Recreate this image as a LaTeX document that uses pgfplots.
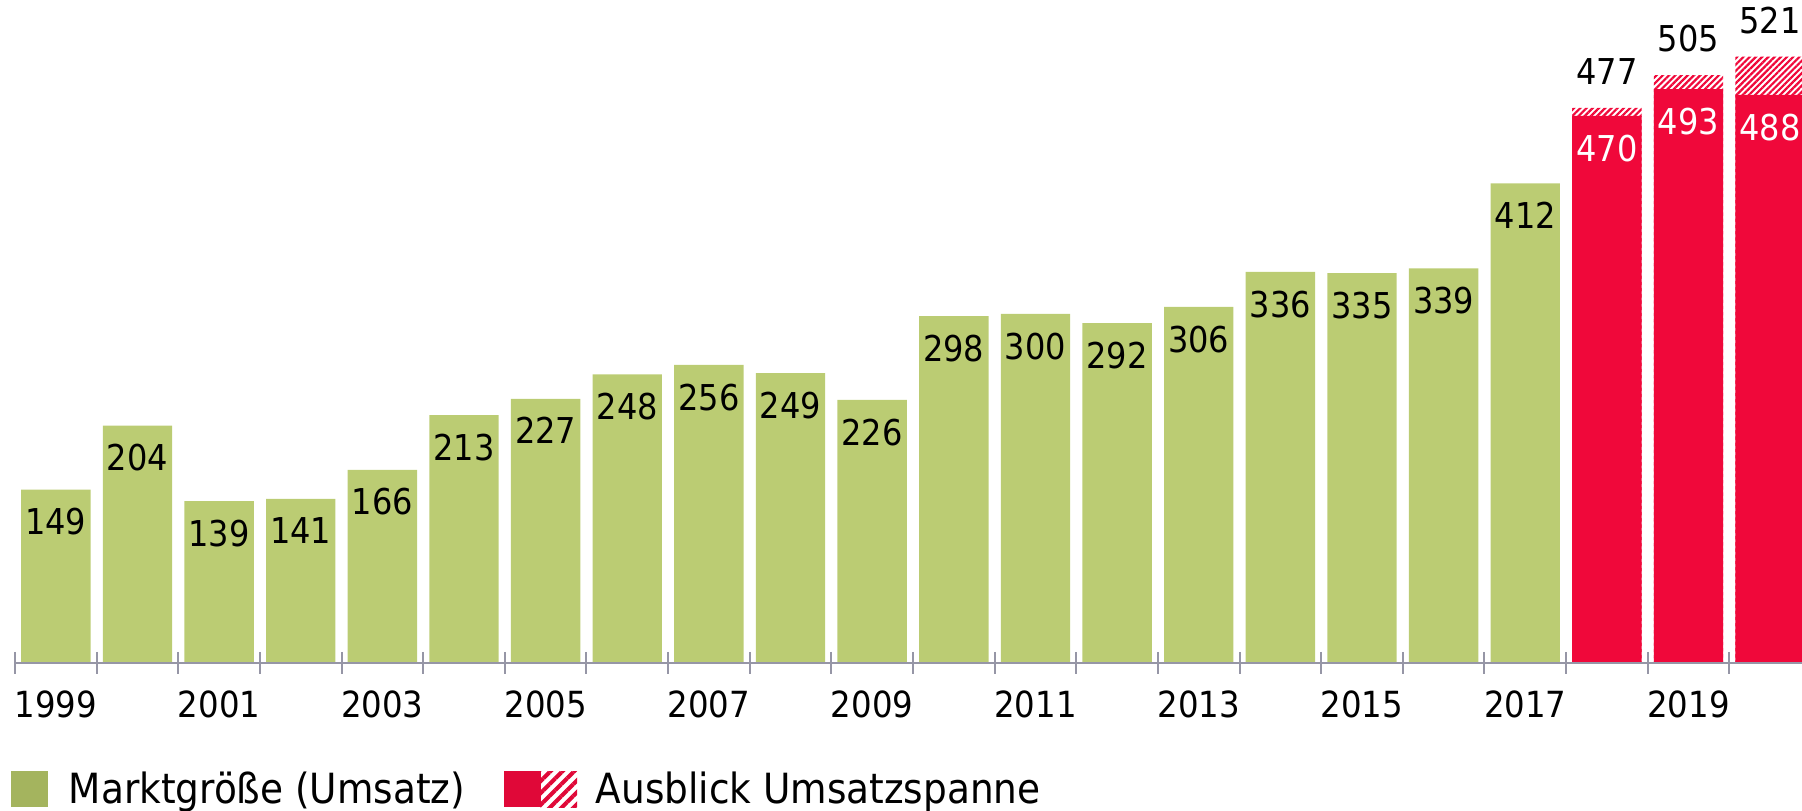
\documentclass[border=0pt]{standalone}
\usepackage{fontspec}
\setmainfont{DejaVu Sans Condensed}
\usepackage{pgfplots}
\pgfplotsset{compat=1.18}
\usetikzlibrary{patterns.meta}

\definecolor{barG}{RGB}{187,204,115}
\definecolor{legG}{RGB}{164,180,94}
\definecolor{barR}{RGB}{240,8,58}
\definecolor{legR}{RGB}{224,8,56}
\definecolor{axG}{RGB}{150,150,166}

% Marktgroesse 1999-2017
\pgfplotstableread{
x y
0 149
1 204
2 139
3 141
4 166
5 213
6 227
7 248
8 256
9 249
10 226
11 298
12 300
13 292
14 306
15 336
16 335
17 339
18 412
}\markt
% Ausblick: untere / obere Grenze
\pgfplotstableread{
x lo hi
19 470 477
20 493 505
21 488 521
}\ausblick

\begin{document}
\begin{tikzpicture}
\begin{axis}[
  scale only axis, width=446.75pt, height=165.75pt,
  xmin=-0.5, xmax=21.39, ymin=0, ymax=569.6,
  axis x line*=bottom, axis y line=none,
  x axis line style={-, draw=axG, line width=0.5pt},
  ytick=\empty,
  xtick pos=bottom,
  xtick={0,2,...,20},
  xticklabels={1999,2001,2003,2005,2007,2009,2011,2013,2015,2017,2019},
  major tick length=0pt,
  xticklabel style={font=\fontsize{9}{10}\selectfont, anchor=north, inner sep=0pt, yshift=-6.75pt},
  /pgf/number format/assume math mode=true,
  bar width=0.85,
  axis on top,
  nodes near coords style={font=\fontsize{8.9}{10}\selectfont, inner sep=0pt},
]
\addplot[ybar, fill=barG, draw=none, bar shift=0pt, nodes near coords,
  every node near coord/.append style={anchor=north, yshift=-4.5pt, text=black}]
  table[x=x, y=y] {\markt};
\addplot[ybar, draw=none, bar shift=0pt,
  pattern={Lines[angle=45, distance=1.1pt, line width=0.55pt]}, pattern color=barR,
  nodes near coords,
  every node near coord/.append style={anchor=south, yshift=5.5pt, text=black}]
  table[x=x, y=hi] {\ausblick};
\addplot[ybar, fill=barR, draw=none, bar shift=0pt, nodes near coords,
  every node near coord/.append style={anchor=north, yshift=-4.5pt, text=white}]
  table[x=x, y=lo] {\ausblick};
% Trennstriche zwischen den Jahren
\addplot[only marks, mark=|, mark size=2.75pt, mark options={draw=axG, line width=0.5pt}]
  coordinates {(-0.5,0) (0.5,0) (1.5,0) (2.5,0) (3.5,0) (4.5,0) (5.5,0) (6.5,0)
  (7.5,0) (8.5,0) (9.5,0) (10.5,0) (11.5,0) (12.5,0) (13.5,0) (14.5,0) (15.5,0)
  (16.5,0) (17.5,0) (18.5,0) (19.5,0) (20.5,0)};
\end{axis}

% legend
\fill[legG] (-0.875pt,-27.1pt) rectangle (8.125pt,-36.1pt);
\node[anchor=base west, inner sep=0pt, font=\fontsize{10.4}{12}\selectfont] at (13.25pt,-35.25pt) {Marktgröße (Umsatz)};
\fill[legR] (122.25pt,-27.1pt) rectangle (131.4pt,-36.1pt);
\begin{scope}
\clip (131.4pt,-27.1pt) rectangle (140.5pt,-36.1pt);
\fill[pattern={Lines[angle=45, distance=2.1pt, line width=1pt]}, pattern color=legR]
  (131.4pt,-27.1pt) rectangle (140.5pt,-36.1pt);
\end{scope}
\node[anchor=base west, inner sep=0pt, font=\fontsize{10.4}{12}\selectfont] at (145pt,-35.25pt) {Ausblick Umsatzspanne};

\pgfresetboundingbox
\path[use as bounding box] (-3.75pt,-37pt) rectangle (446.75pt,165.75pt);
\end{tikzpicture}
\end{document}
